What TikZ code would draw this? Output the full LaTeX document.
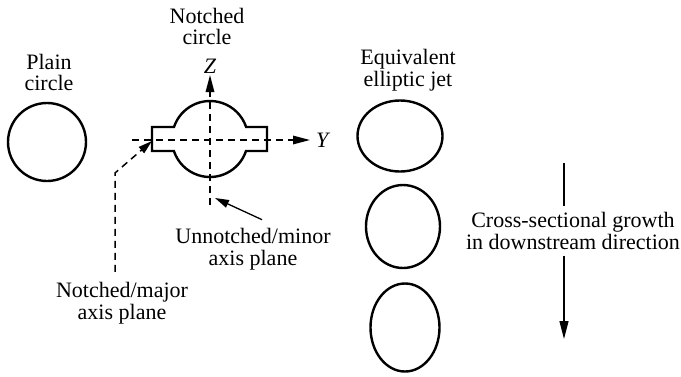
\documentclass[tikz,border=0pt]{standalone}
\usepackage{fontspec}
\setmainfont{Liberation Serif}
\usetikzlibrary{arrows.meta,positioning}
\tikzset{
  jet/.style={line width=2.4pt},
  axisline/.style={line width=1.5pt, dash pattern=on 7pt off 5pt, -{Triangle[length=17pt,width=8.5pt]}},
  leader/.style={line width=1.5pt, dash pattern=on 7pt off 5pt, -{Triangle[length=14pt,width=8pt]}},
  pointer/.style={line width=1.3pt, -{Triangle[length=14pt,width=8pt]}},
  lbl/.style={align=center, inner sep=3pt}
}
\begin{document}
\begin{tikzpicture}[x=1pt, y=-1pt, font=\fontsize{22}{21.5}\selectfont]
  \useasboundingbox (0,0) rectangle (681,376);

  % Plain circle
  \node[lbl] (plain) at (49,72.5) {Plain\\circle};
  \draw[jet] (47,142) circle [radius=39];

  % Notched circle with axes
  \node[lbl] (notched) at (207,26.5) {Notched\\circle};
  \draw[jet] (152,127) -- (174,127) arc [start angle=198.4, end angle=341.6, radius=38]
    -- (267,127) -- (267,151) -- (246,151) arc [start angle=18.4, end angle=161.6, radius=38]
    -- (152,151) -- cycle;
  \coordinate (yfrom) at (132,140);
  \coordinate (zfrom) at (210,205);
  \node[inner sep=6pt, anchor=west] (ylab) at (310,140) {\textit{Y}};
  \node[inner sep=1pt, anchor=south] (zlab) at (210,75) {\textit{Z}};
  \draw[axisline] (yfrom) -- (ylab.west);
  \draw[axisline] (zfrom) -- (zlab.south);

  % Axis plane labels
  \node[lbl] (major) at (122,303.3) {Notched/major\\axis plane};
  \node[lbl] (minor) at (253,249) {Unnotched/minor\\axis plane};
  \coordinate (majbend) at (115,173);
  \coordinate (tabwest) at (152,141);
  \coordinate (minortip) at (215,198);
  \draw[leader] ([xshift=-7pt, yshift=7.6pt]major.north) -- (majbend) -- (tabwest);
  \draw[pointer] ([xshift=9pt, yshift=5.4pt]minor.north) -- (minortip);

  % Equivalent elliptic jet
  \node[lbl] (equiv) at (408,70) {Equivalent\\elliptic jet};
  \draw[jet] (400,136) ellipse [x radius=42.5, y radius=35.5];
  \draw[jet] (403,226.5) ellipse [x radius=37, y radius=41.5];
  \draw[jet] (405,327.5) ellipse [x radius=34.5, y radius=44];

  % Downstream growth
  \node[lbl, inner sep=6pt] (growth) at (573,231) {Cross-sectional growth\\in downstream direction};
  \coordinate (gtop) at (564,163);
  \coordinate (gend) at (564,339);
  \draw[line width=1.3pt] (gtop) -- (gtop |- growth.north);
  \draw[line width=1.3pt, -{Triangle[length=18pt,width=9pt]}] (gtop |- growth.south) -- (gend);
\end{tikzpicture}
\end{document}
